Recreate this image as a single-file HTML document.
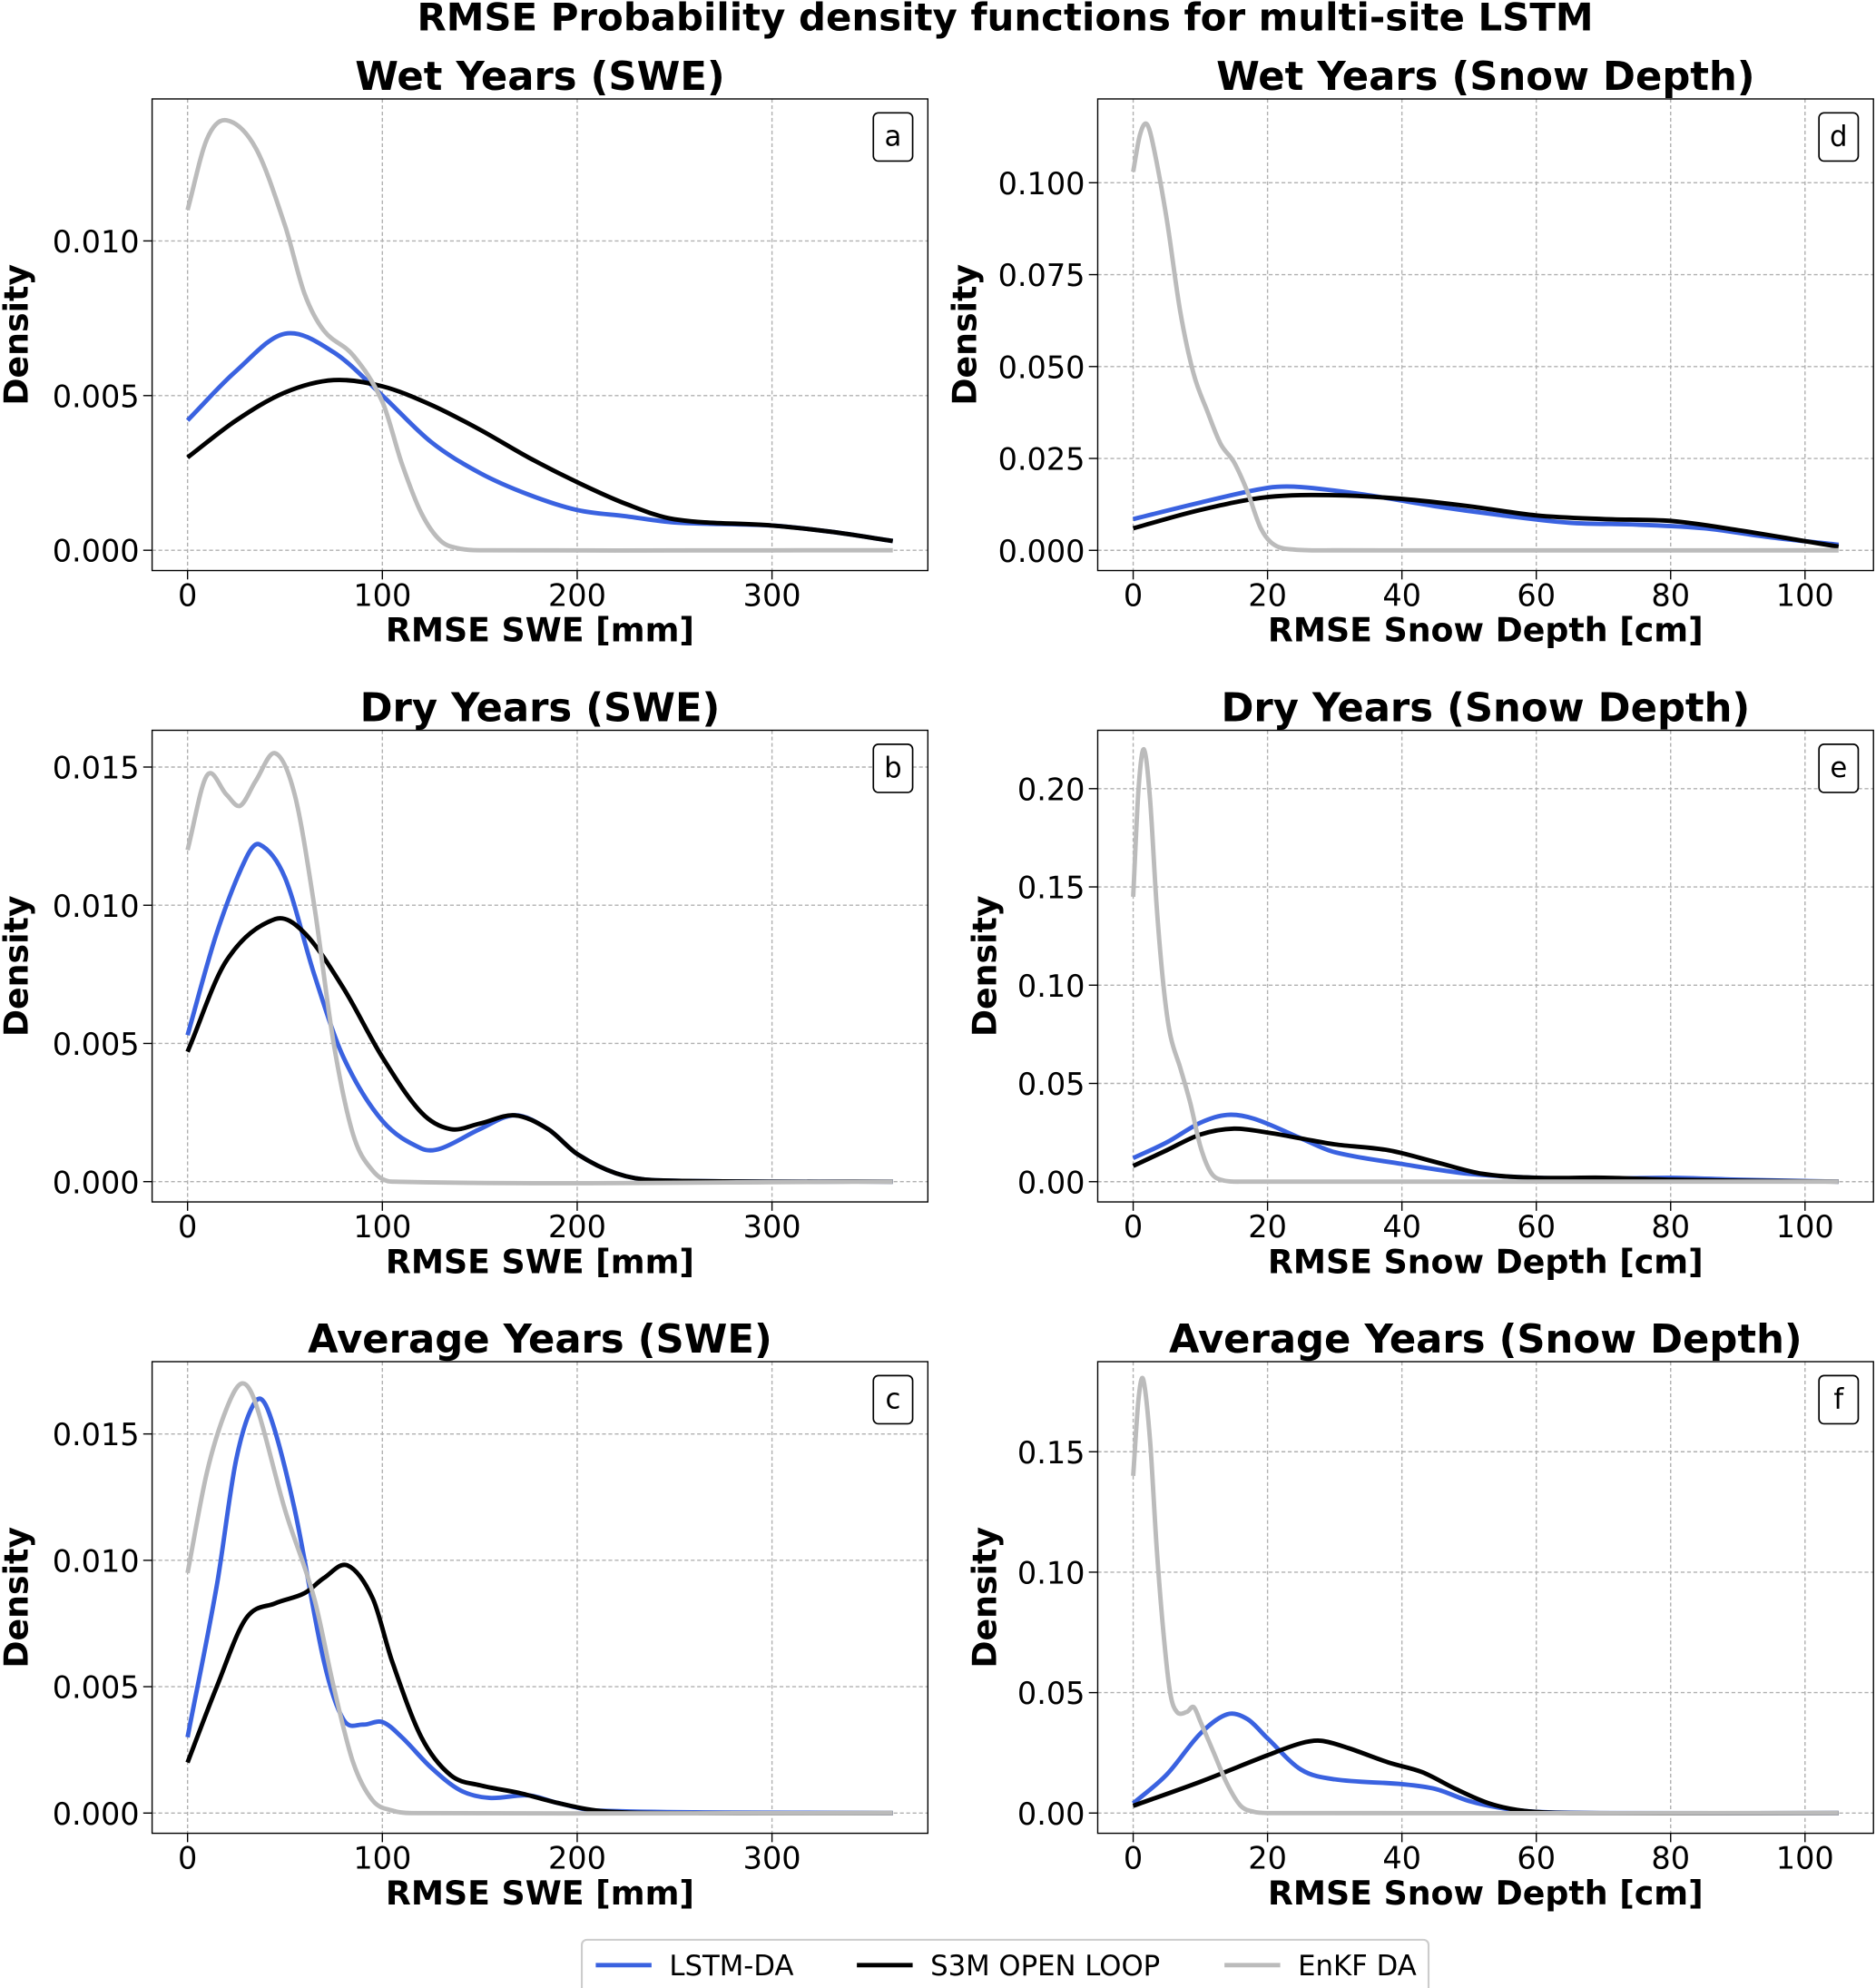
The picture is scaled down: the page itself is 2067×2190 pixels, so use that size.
<!DOCTYPE html>
<html><head><meta charset="utf-8">
<style>
html,body{margin:0;padding:0;background:#fff;}
svg{display:block;font-family:"DejaVu Sans","Liberation Sans",sans-serif;}
</style></head>
<body>
<svg id="fig" width="2067" height="2190" viewBox="0 0 1480 1568" xmlns="http://www.w3.org/2000/svg">
<rect width="1480" height="1568" fill="#fff"/>
<text x="793" y="24" text-anchor="middle" font-size="30" font-weight="bold">RMSE Probability density functions for multi-site LSTM</text>
<g id="panels"></g>
<g>
<rect x="459" y="1530" width="668" height="42" fill="#fff" stroke="#ccc" stroke-width="1.5" rx="4"/>
<g><line x1="470" y1="1550" x2="514" y2="1550" stroke="#3a62e0" stroke-width="3.5"/><text x="528" y="1558" font-size="22">LSTM-DA</text></g>
<g><line x1="676" y1="1550" x2="720" y2="1550" stroke="#000" stroke-width="3.5"/><text x="734" y="1558" font-size="22">S3M OPEN LOOP</text></g>
<g><line x1="966" y1="1550" x2="1010" y2="1550" stroke="#bbb" stroke-width="3.5"/><text x="1024" y="1558" font-size="22">EnKF DA</text></g>
</g>
</svg>
<script>
// ---- data (x values / densities) ----
const aX=[0,25,50,75,100,125,150,175,200,225,250,300,330,362];
const aLstm=[0.0042,0.0058,0.0070,0.0064,0.0050,0.0035,0.0025,0.0018,0.0013,0.0011,0.0009,0.0008,0.0006,0.0003];
const aOpen=[0.0030,0.0042,0.0051,0.0055,0.0053,0.0047,0.0039,0.0030,0.0022,0.0015,0.0010,0.0008,0.0006,0.0003];
const aEnkfX=[0,10,20,35,50,60,70,85,100,110,120,130,140,150,362];
const aEnkf=[0.0110,0.0133,0.0139,0.0130,0.0105,0.0083,0.0071,0.0063,0.0048,0.0028,0.0012,0.0003,0.00005,0,0];

const bLstmX=[0,15,30,37,50,65,80,100,120,130,150,168,185,200,220,240,362];
const bLstm=[0.0053,0.0090,0.0117,0.0122,0.0110,0.0075,0.0045,0.0022,0.0012,0.0012,0.0019,0.0024,0.0019,0.0010,0.0003,0.00005,0];
const bOpenX=[0,20,45,60,80,100,120,135,150,168,185,200,220,240,362];
const bOpen=[0.0047,0.0080,0.0095,0.0090,0.0070,0.0045,0.0025,0.0019,0.0021,0.0024,0.0019,0.0010,0.0003,0.00005,0];
const bEnkfX=[0,10,20,27,35,45,55,65,75,85,95,105,362];
const bEnkf=[0.0120,0.0147,0.0140,0.0136,0.0145,0.0155,0.0140,0.0100,0.0050,0.0017,0.0004,0,0];

const cLstmX=[0,15,25,35,42,55,70,80,90,100,110,125,140,155,175,190,210,362];
const cLstm=[0.0030,0.0090,0.0140,0.0163,0.0158,0.0120,0.0060,0.0037,0.0035,0.0036,0.0030,0.0018,0.0009,0.0006,0.0007,0.0004,0.0001,0];
const cOpenX=[0,15,30,45,60,70,82,95,105,120,135,150,170,190,210,240,362];
const cOpen=[0.0020,0.0050,0.0077,0.0083,0.0087,0.0093,0.0098,0.0085,0.0060,0.0030,0.0015,0.0011,0.0008,0.0004,0.0001,0,0];
const cEnkfX=[0,10,20,28,35,50,65,75,85,95,105,115,362];
const cEnkf=[0.0095,0.0135,0.0160,0.0170,0.0162,0.0120,0.0085,0.0050,0.0020,0.0005,0.0001,0,0];

const dLstmX=[0,10,20,25,35,45,55,65,75,85,95,105];
const dLstm=[0.0085,0.013,0.017,0.0172,0.015,0.012,0.0095,0.0075,0.0070,0.006,0.0035,0.0015];
const dOpenX=[0,10,20,30,40,50,60,70,80,90,100,105];
const dOpen=[0.006,0.011,0.0145,0.015,0.014,0.012,0.0095,0.0085,0.0080,0.0055,0.0025,0.001];
const dEnkfX=[0,1,2,3,5,7,9,11,13,15,17,19,21,24,30,105];
const dEnkf=[0.103,0.113,0.116,0.110,0.090,0.065,0.048,0.038,0.029,0.024,0.016,0.006,0.0015,0.0002,0,0];

const eLstmX=[0,5,10,14,18,25,30,40,50,60,70,80,90,105];
const eLstm=[0.012,0.020,0.030,0.034,0.032,0.022,0.015,0.009,0.004,0.002,0.0015,0.002,0.001,0];
const eOpenX=[0,5,10,15,20,25,30,38,45,52,60,70,80,90,105];
const eOpen=[0.008,0.016,0.024,0.027,0.025,0.022,0.019,0.016,0.010,0.004,0.002,0.002,0.001,0.0005,0];
const eEnkfX=[0,0.8,1.6,2.5,3.5,4.5,5.5,7,8.5,10,11.5,13,16,105];
const eEnkf=[0.145,0.20,0.220,0.195,0.140,0.100,0.075,0.058,0.040,0.018,0.005,0.001,0,0];

const fLstmX=[0,5,10,14,17,20,25,30,40,45,50,55,60,70,105];
const fLstm=[0.004,0.016,0.033,0.041,0.039,0.031,0.018,0.014,0.012,0.010,0.005,0.002,0.0005,0,0];
const fOpenX=[0,10,20,25,28,32,38,43,48,53,58,65,105];
const fOpen=[0.003,0.013,0.024,0.029,0.030,0.027,0.021,0.017,0.010,0.004,0.001,0,0];
const fEnkfX=[0,0.8,1.5,2.5,3.5,4.5,5.5,6.5,8,9,10,12,14,16,18,20,105];
const fEnkf=[0.140,0.172,0.180,0.155,0.110,0.075,0.050,0.042,0.042,0.044,0.038,0.025,0.012,0.003,0.0005,0,0];

const sweTicks=[0,100,200,300];
const sdTicks=[0,20,40,60,80,100];
const aYTicks=[0,0.005,0.010], aYLabels=["0.000","0.005","0.010"];
const bYTicks=[0,0.005,0.010,0.015], bYLabels=["0.000","0.005","0.010","0.015"];
const cYTicks=[0,0.005,0.010,0.015], cYLabels=["0.000","0.005","0.010","0.015"];
const dYTicks=[0,0.025,0.05,0.075,0.1], dYLabels=["0.000","0.025","0.050","0.075","0.100"];
const eYTicks=[0,0.05,0.1,0.15,0.2], eYLabels=["0.00","0.05","0.10","0.15","0.20"];
const fYTicks=[0,0.05,0.1,0.15], fYLabels=["0.00","0.05","0.10","0.15"];

const NS="http://www.w3.org/2000/svg";
const root=document.getElementById('panels');
function mk(tag,attrs,parent){const e=document.createElementNS(NS,tag);for(const k in attrs)e.setAttribute(k,attrs[k]);parent.appendChild(e);return e;}

const RX1=1478, RXMAX=(1478-894)/5.3;
const panels=[
 {id:'a',title:'Wet Years (SWE)',x0:120,x1:732,y0:78,y1:450,xmin:-18.2,xmax:380,ymin:-0.000656,ymax:0.01459,xt:sweTicks,yt:aYTicks,yl:aYLabels,xlab:'RMSE SWE [mm]',ylx:12,
  s:[[aX,aLstm,'#3a62e0'],[aX,aOpen,'#000'],[aEnkfX,aEnkf,'#bbb']]},
 {id:'b',title:'Dry Years (SWE)',x0:120,x1:732,y0:576,y1:948,xmin:-18.2,xmax:380,ymin:-0.000734,ymax:0.01633,xt:sweTicks,yt:bYTicks,yl:bYLabels,xlab:'RMSE SWE [mm]',ylx:12,
  s:[[bLstmX,bLstm,'#3a62e0'],[bOpenX,bOpen,'#000'],[bEnkfX,bEnkf,'#bbb']]},
 {id:'c',title:'Average Years (SWE)',x0:120,x1:732,y0:1074,y1:1446,xmin:-18.2,xmax:380,ymin:-0.0008,ymax:0.01786,xt:sweTicks,yt:cYTicks,yl:cYLabels,xlab:'RMSE SWE [mm]',ylx:12,
  s:[[cLstmX,cLstm,'#3a62e0'],[cOpenX,cOpen,'#000'],[cEnkfX,cEnkf,'#bbb']]},
 {id:'d',title:'Wet Years (Snow Depth)',x0:866,x1:RX1,y0:78,y1:450,xmin:-5.28,xmax:RXMAX,ymin:-0.0055,ymax:0.1228,xt:sdTicks,yt:dYTicks,yl:dYLabels,xlab:'RMSE Snow Depth [cm]',ylx:760,
  s:[[dLstmX,dLstm,'#3a62e0'],[dOpenX,dOpen,'#000'],[dEnkfX,dEnkf,'#bbb']]},
 {id:'e',title:'Dry Years (Snow Depth)',x0:866,x1:RX1,y0:576,y1:948,xmin:-5.28,xmax:RXMAX,ymin:-0.0103,ymax:0.2297,xt:sdTicks,yt:eYTicks,yl:eYLabels,xlab:'RMSE Snow Depth [cm]',ylx:776,
  s:[[eLstmX,eLstm,'#3a62e0'],[eOpenX,eOpen,'#000'],[eEnkfX,eEnkf,'#bbb']]},
 {id:'f',title:'Average Years (Snow Depth)',x0:866,x1:RX1,y0:1074,y1:1446,xmin:-5.28,xmax:RXMAX,ymin:-0.0084,ymax:0.1874,xt:sdTicks,yt:fYTicks,yl:fYLabels,xlab:'RMSE Snow Depth [cm]',ylx:776,
  s:[[fLstmX,fLstm,'#3a62e0'],[fOpenX,fOpen,'#000'],[fEnkfX,fEnkf,'#bbb']]}
];
const seriesNames={'#3a62e0':'lstm-da-curve','#000':'s3m-open-loop-curve','#bbb':'enkf-da-curve'};

function smoothPath(pts){
 let d='M'+pts[0][0].toFixed(2)+','+pts[0][1].toFixed(2);
 for(let i=0;i<pts.length-1;i++){
  const p0=pts[Math.max(0,i-1)],p1=pts[i],p2=pts[i+1],p3=pts[Math.min(pts.length-1,i+2)];
  const t=(p2[0]-p1[0]);
  const m1=(p2[1]-p0[1])/Math.max(1e-6,(p2[0]-p0[0]));
  const m2=(p3[1]-p1[1])/Math.max(1e-6,(p3[0]-p1[0]));
  const c1=[p1[0]+t/3,p1[1]+m1*t/3], c2=[p2[0]-t/3,p2[1]-m2*t/3];
  d+=' C'+c1[0].toFixed(2)+','+c1[1].toFixed(2)+' '+c2[0].toFixed(2)+','+c2[1].toFixed(2)+' '+p2[0].toFixed(2)+','+p2[1].toFixed(2);
 }
 return d;
}

panels.forEach(p=>{
 const g=mk('g',{},root);
 
 
 const sx=v=>p.x0+(v-p.xmin)/(p.xmax-p.xmin)*(p.x1-p.x0);
 const sy=v=>p.y1-(v-p.ymin)/(p.ymax-p.ymin)*(p.y1-p.y0);
 const cx=(p.x0+p.x1)/2;
 const t=mk('text',{x:cx,y:p.y0-7,'text-anchor':'middle','font-size':31,'font-weight':'bold'},g);t.textContent=p.title;
 
 
 p.xt.forEach(v=>{const l=mk('line',{x1:sx(v),x2:sx(v),y1:p.y0,y2:p.y1,stroke:'#b0b0b0','stroke-width':1,'stroke-dasharray':'3,2'},g);
  
  });
 p.yt.forEach(v=>{const l=mk('line',{x1:p.x0,x2:p.x1,y1:sy(v),y2:sy(v),stroke:'#b0b0b0','stroke-width':1,'stroke-dasharray':'3,2'},g);
  
  });
 const cp=mk('clipPath',{id:'clip'+p.id},g);mk('rect',{x:p.x0,y:p.y0,width:p.x1-p.x0,height:p.y1-p.y0},cp);
 p.s.forEach(s=>{
  const pts=s[0].map((x,i)=>[sx(x),sy(s[1][i])]);
  const path=mk('path',{d:smoothPath(pts),fill:'none',stroke:s[2],'stroke-width':3.5,'stroke-linejoin':'round','clip-path':'url(#clip'+p.id+')'},g);
  
  
 });
 const fr=mk('rect',{x:p.x0,y:p.y0,width:p.x1-p.x0,height:p.y1-p.y0,fill:'none',stroke:'#000','stroke-width':1},g);
 
 
 p.xt.forEach(v=>{mk('line',{x1:sx(v),x2:sx(v),y1:p.y1,y2:p.y1+7,stroke:'#000','stroke-width':1},g);
  const tl=mk('text',{x:sx(v),y:p.y1+28,'text-anchor':'middle','font-size':24},g);tl.textContent=v;
  
  });
 p.yt.forEach((v,i)=>{mk('line',{x1:p.x0-7,x2:p.x0,y1:sy(v),y2:sy(v),stroke:'#000','stroke-width':1},g);
  const tl=mk('text',{x:p.x0-10,y:sy(v)+9,'text-anchor':'end','font-size':24},g);tl.textContent=p.yl[i];
  
  });
 const xl=mk('text',{x:cx,y:p.y1+56,'text-anchor':'middle','font-size':26,'font-weight':'bold'},g);xl.textContent=p.xlab;
 
 
 const ym=(p.y0+p.y1)/2;
 const yl=mk('text',{x:p.ylx+10,y:ym,'text-anchor':'middle','font-size':26,'font-weight':'bold',transform:'rotate(-90 '+(p.ylx+10)+' '+ym+')'},g);yl.textContent='Density';
 
 
 const lb=mk('g',{},g);
 
 
 mk('rect',{x:p.x1-43,y:p.y0+11,width:31,height:38,rx:4,fill:'#fff',stroke:'#000','stroke-width':1.2},lb);
 const lt=mk('text',{x:p.x1-27.5,y:p.y0+37,'text-anchor':'middle','font-size':22},lb);lt.textContent=p.id;
});
</script>
</body></html>
